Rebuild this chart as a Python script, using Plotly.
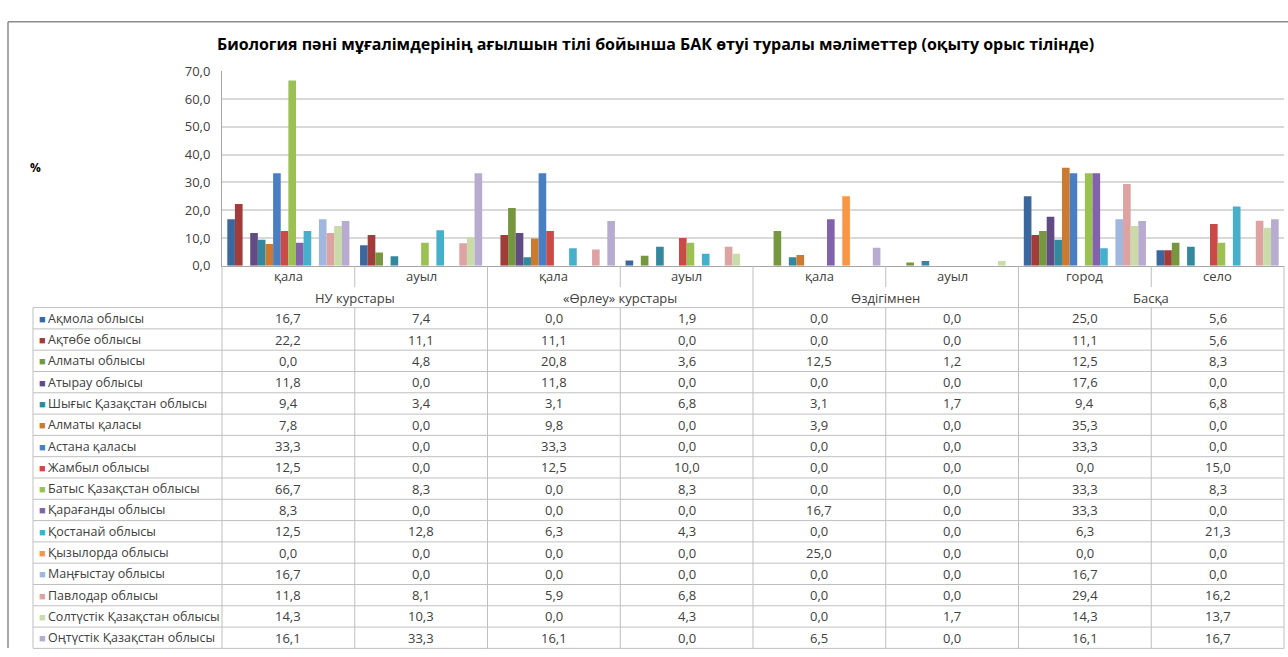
import plotly.graph_objects as go

W, H = 1288, 657

title = "Биология пәні мұғалімдерінің ағылшын тілі бойынша БАК өтуі туралы мәліметтер (оқыту орыс тілінде)"
categories = ["қала", "ауыл", "қала", "ауыл", "қала", "ауыл", "город", "село"]
groups = ["НУ курстары", "«Өрлеу» курстары", "Өздігімнен", "Басқа"]

regions = [
    "Ақмола облысы", "Ақтөбе облысы", "Алматы облысы", "Атырау облысы",
    "Шығыс Қазақстан облысы", "Алматы қаласы", "Астана қаласы", "Жамбыл облысы",
    "Батыс Қазақстан облысы", "Қарағанды облысы", "Қостанай облысы", "Қызылорда облысы",
    "Маңғыстау облысы", "Павлодар облысы", "Солтүстік Қазақстан облысы", "Оңтүстік Қазақстан облысы",
]

akmola = [16.7, 7.4, 0.0, 1.9, 0.0, 0.0, 25.0, 5.6]
aktobe = [22.2, 11.1, 11.1, 0.0, 0.0, 0.0, 11.1, 5.6]
almaty_obl = [0.0, 4.8, 20.8, 3.6, 12.5, 1.2, 12.5, 8.3]
atyrau = [11.8, 0.0, 11.8, 0.0, 0.0, 0.0, 17.6, 0.0]
shygys = [9.4, 3.4, 3.1, 6.8, 3.1, 1.7, 9.4, 6.8]
almaty_city = [7.8, 0.0, 9.8, 0.0, 3.9, 0.0, 35.3, 0.0]
astana = [33.3, 0.0, 33.3, 0.0, 0.0, 0.0, 33.3, 0.0]
zhambyl = [12.5, 0.0, 12.5, 10.0, 0.0, 0.0, 0.0, 15.0]
batys = [66.7, 8.3, 0.0, 8.3, 0.0, 0.0, 33.3, 8.3]
karagandy = [8.3, 0.0, 0.0, 0.0, 16.7, 0.0, 33.3, 0.0]
kostanay = [12.5, 12.8, 6.3, 4.3, 0.0, 0.0, 6.3, 21.3]
kyzylorda = [0.0, 0.0, 0.0, 0.0, 25.0, 0.0, 0.0, 0.0]
mangystau = [16.7, 0.0, 0.0, 0.0, 0.0, 0.0, 16.7, 0.0]
pavlodar = [11.8, 8.1, 5.9, 6.8, 0.0, 0.0, 29.4, 16.2]
soltustik = [14.3, 10.3, 0.0, 4.3, 0.0, 1.7, 14.3, 13.7]
ontustik = [16.1, 33.3, 16.1, 0.0, 6.5, 0.0, 16.1, 16.7]

series = [akmola, aktobe, almaty_obl, atyrau, shygys, almaty_city, astana, zhambyl,
          batys, karagandy, kostanay, kyzylorda, mangystau, pavlodar, soltustik, ontustik]

colors = ["#3A679E", "#A03C3A", "#779640", "#624B82", "#34889E", "#CC7A30",
          "#4A7EC2", "#C94A47", "#9BC152", "#8262AA", "#45B0CC", "#F79646",
          "#A0B8DE", "#DDA3A2", "#C8DBA8", "#B8ABD0"]

# pixel layout of the Excel-like frame
x0, x1 = 222, 1284          # plot / table columns
ytop, ybase = 64, 264       # plot area
row_top, row_h = 307, 21.9
label_x = 33
col_w = (x1 - x0) / len(categories)

def px(x):
    return x / W

def py(y):
    return 1 - y / H

font = "Open Sans, Liberation Sans, sans-serif"
txt = "#404040"
line_col = "#BFBFBF"

fig = go.Figure()
for name, vals, c in zip(regions, series, colors):
    fig.add_trace(go.Bar(x=list(range(len(categories))), y=vals, name=name,
                         marker=dict(color=c, line=dict(width=0))))

shapes = []
ann = []

def vline(x, ya, yb, color=line_col, width=1):
    shapes.append(dict(type="line", xref="paper", yref="paper", x0=px(x), x1=px(x),
                       y0=py(ya), y1=py(yb), line=dict(color=color, width=width)))

def hline(y, xa, xb, color=line_col, width=1):
    shapes.append(dict(type="line", xref="paper", yref="paper", x0=px(xa), x1=px(xb),
                       y0=py(y), y1=py(y), line=dict(color=color, width=width)))

def text(x, y, s, size=13, color=txt, xanchor="center"):
    ann.append(dict(x=px(x), y=py(y), text=s, showarrow=False, xref="paper", yref="paper",
                    xanchor=xanchor, yanchor="middle",
                    font=dict(size=size, color=color, family=font)))

# outer chart frame
hline(13, 8, W, "#8C8C8C", 1.5)
vline(8, 13, H, "#8C8C8C", 1.5)

# table grid
bottom = row_top + row_h * len(regions)
for i in range(len(categories) + 1):
    xx = x0 + i * col_w
    if i % 2 == 0:
        vline(xx, ybase, bottom)
    else:
        vline(xx, ybase, 286)
        vline(xx, row_top, bottom)
vline(label_x, row_top, bottom)
for k in range(len(regions) + 1):
    hline(row_top + k * row_h, label_x, x1)

# header labels
for i, c in enumerate(categories):
    text(x0 + (i + 0.5) * col_w, 275, c)
for g, name in enumerate(groups):
    text(x0 + (2 * g + 1) * col_w, 297, name)

# rows
for r, (name, vals, c) in enumerate(zip(regions, series, colors)):
    yc = row_top + (r + 0.5) * row_h
    text(37, yc, "■", size=11, color=c, xanchor="left")
    text(46, yc, name, size=12.5, xanchor="left")
    for i, v in enumerate(vals):
        text(x0 + (i + 0.5) * col_w, yc, f"{v:.1f}".replace(".", ","))

text(655, 36, "<b>" + title + "</b>", size=16, color="#000000")
text(35, 163, "<b>%</b>", size=12, color="#000000")

fig.update_layout(
    width=W, height=H,
    margin=dict(l=0, r=0, t=0, b=0),
    paper_bgcolor="white", plot_bgcolor="white",
    barmode="group", bargap=0.08, bargroupgap=0,
    showlegend=False,
    separators=", ",
    shapes=shapes, annotations=ann,
    xaxis=dict(domain=[px(x0), px(x1)], range=[-0.5, len(categories) - 0.5],
               showticklabels=False, showgrid=False, zeroline=False,
               showline=True, linecolor="#A6A6A6", linewidth=1),
    yaxis=dict(domain=[py(ybase), py(ytop)], range=[0, 70], dtick=10, tickformat=".1f",
               showgrid=True, gridcolor="#D9D9D9", gridwidth=2, zeroline=False,
               showline=True, linecolor="#A6A6A6", linewidth=1,
               ticks="", ticklen=0, ticklabelstandoff=8,
               tickfont=dict(size=13, color=txt, family=font)),
)

fig.write_html("out.html", config={"displayModeBar": False},
               post_script="document.body.style.margin='0';document.body.style.overflow='hidden';")
